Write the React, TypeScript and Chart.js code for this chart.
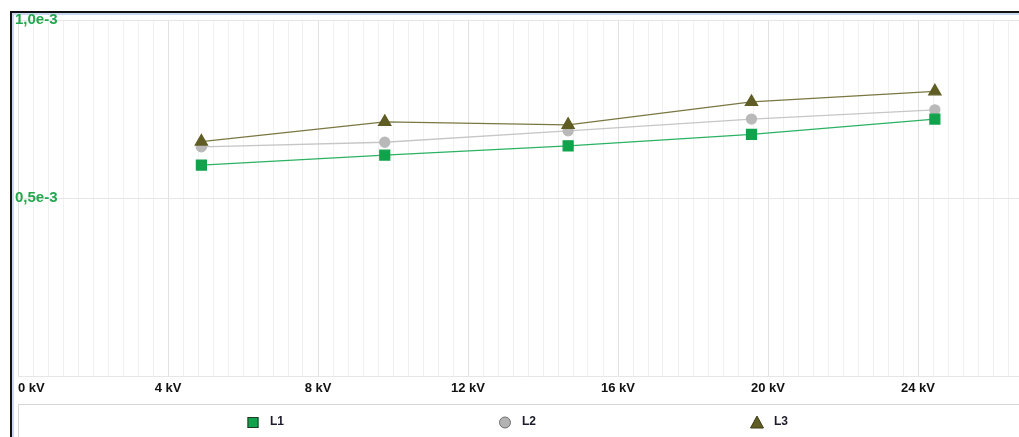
import React, { useEffect, useRef } from "react";
import { Chart, registerables } from "chart.js";

Chart.register(...registerables);

// Data
const voltagesKV = [4.89, 9.78, 14.67, 19.56, 24.45];
const seriesL1 = [0.593e-3, 0.621e-3, 0.647e-3, 0.679e-3, 0.722e-3];
const seriesL2 = [0.644e-3, 0.657e-3, 0.689e-3, 0.722e-3, 0.748e-3];
const seriesL3 = [0.659e-3, 0.714e-3, 0.706e-3, 0.770e-3, 0.800e-3];
const seriesNames = ["L1", "L2", "L3"];
const xMajorTicks = [0, 4, 8, 12, 16, 20, 24];
const yTickValues = [0.5e-3, 1.0e-3];

const CANVAS_W = 1040;
const CANVAS_H = 437;

const L1_COLOR = "#10a34c";
const L2_COLOR = "#b9b9b9";
const L3_COLOR = "#5f5d24";

const isMajor = (v: number) => xMajorTicks.some((m) => Math.abs(v - m) < 1e-6);

const framePlugin = {
  id: "frame",
  beforeDraw(chart: any) {
    const ctx = chart.ctx;
    ctx.save();
    ctx.fillStyle = "#ffffff";
    ctx.fillRect(0, 0, chart.width, chart.height);
    ctx.fillStyle = "#111111";
    ctx.fillRect(10, 11, chart.width, 2);
    ctx.fillRect(10, 11, 2, chart.height);
    ctx.fillStyle = "#c9d8ef";
    ctx.fillRect(12, 13, chart.width, 2);
    ctx.fillRect(12, 13, 2, chart.height);
    ctx.restore();
  },
};

const legendPlugin = {
  id: "bottomLegend",
  afterDraw(chart: any) {
    const ctx = chart.ctx;
    ctx.save();
    ctx.fillStyle = "#ffffff";
    ctx.fillRect(18, 404, 1008, 60);
    ctx.strokeStyle = "#d6d6d6";
    ctx.lineWidth = 1;
    ctx.strokeRect(18.5, 404.5, 1008, 60);
    const y = 422;
    chart.data.datasets.forEach((ds: any, i: number) => {
      const textX = 18 + 252 * (i + 1);
      const mx = textX - 17;
      ctx.lineWidth = 1;
      if (i === 0) {
        ctx.fillStyle = L1_COLOR;
        ctx.fillRect(mx - 5.5, y - 5, 11, 11);
        ctx.strokeStyle = "#1e3a27";
        ctx.strokeRect(mx - 5, y - 4.5, 10, 10);
      } else if (i === 1) {
        ctx.beginPath();
        ctx.arc(mx, y + 0.5, 5.5, 0, Math.PI * 2);
        ctx.fillStyle = "#b3b3b3";
        ctx.fill();
        ctx.strokeStyle = "#6f6f6f";
        ctx.stroke();
      } else {
        ctx.beginPath();
        ctx.moveTo(mx, y - 6);
        ctx.lineTo(mx + 6.5, y + 6);
        ctx.lineTo(mx - 6.5, y + 6);
        ctx.closePath();
        ctx.fillStyle = L3_COLOR;
        ctx.fill();
        ctx.strokeStyle = "#3d3c14";
        ctx.stroke();
      }
      ctx.fillStyle = "#1b1b2b";
      ctx.font = "bold 12px 'Liberation Sans', Arial, sans-serif";
      ctx.textAlign = "left";
      ctx.textBaseline = "middle";
      ctx.fillText(ds.label, textX, y);
    });
    ctx.restore();
  },
};

export default function App() {
  const canvasRef = useRef<HTMLCanvasElement | null>(null);

  useEffect(() => {
    if (!canvasRef.current) return;
    const toPoints = (vals: number[]) => vals.map((v, i) => ({ x: voltagesKV[i], y: v }));
    const chart = new Chart(canvasRef.current, {
      type: "line",
      data: {
        datasets: [
          {
            label: seriesNames[0],
            data: toPoints(seriesL1),
            borderColor: "#2bb262",
            backgroundColor: L1_COLOR,
            pointBackgroundColor: L1_COLOR,
            pointBorderColor: L1_COLOR,
            pointStyle: "rect",
            pointRadius: 7,
            borderWidth: 1.3,
            order: 0,
          },
          {
            label: seriesNames[1],
            data: toPoints(seriesL2),
            borderColor: "#c6c6c6",
            backgroundColor: L2_COLOR,
            pointBackgroundColor: L2_COLOR,
            pointBorderColor: L2_COLOR,
            pointStyle: "circle",
            pointRadius: 5,
            borderWidth: 1.3,
            order: 2,
          },
          {
            label: seriesNames[2],
            data: toPoints(seriesL3),
            borderColor: "#7a7742",
            backgroundColor: L3_COLOR,
            pointBackgroundColor: L3_COLOR,
            pointBorderColor: L3_COLOR,
            pointStyle: "triangle",
            pointRadius: 7,
            borderWidth: 1.3,
            order: 1,
          },
        ],
      },
      options: {
        responsive: false,
        animation: false,
        devicePixelRatio: 1,
        layout: {
          autoPadding: false,
          padding: { left: 18, top: 20, right: CANVAS_W - 1030.5, bottom: 37 },
        },
        plugins: {
          legend: { display: false },
          tooltip: { enabled: false },
        },
        scales: {
          x: {
            type: "linear",
            min: 0,
            max: 27,
            border: { display: false },
            grid: {
              drawTicks: false,
              color: (c: any) => (c.tick && isMajor(c.tick.value) ? "#e2e2e2" : "#f1f1f1"),
              lineWidth: 1,
            },
            ticks: {
              stepSize: 0.4,
              autoSkip: false,
              maxRotation: 0,
              align: "inner",
              padding: 4,
              color: "#111111",
              font: { family: "'Liberation Sans', Arial, sans-serif", size: 13, weight: "bold" },
              callback: (v: any) => {
                const n = Number(v);
                if (!isMajor(n)) return "";
                return `${Math.round(n)} kV`;
              },
            },
          },
          y: {
            type: "linear",
            min: 0,
            max: 1.0e-3,
            border: { display: false },
            grid: { drawTicks: false, color: "#e6e6e6", lineWidth: 1 },
            afterBuildTicks: (axis: any) => {
              axis.ticks = [0, ...yTickValues].map((v) => ({ value: v }));
            },
            ticks: {
              mirror: true,
              padding: -1,
              color: "#1fa84c",
              font: { family: "'Liberation Sans', Arial, sans-serif", size: 15, weight: "bold" },
              callback: (v: any) => {
                const n = Number(v);
                if (n === 0) return "";
                return (n * 1000).toFixed(1).replace(".", ",") + "e-3";
              },
            },
          },
        },
      },
      plugins: [framePlugin, legendPlugin],
    });
    return () => chart.destroy();
  }, []);

  return (
    <div style={{ position: "fixed", left: 0, top: 0, width: 1019, height: 437, overflow: "hidden", background: "#fff" }}>
      <canvas ref={canvasRef} width={CANVAS_W} height={CANVAS_H} style={{ display: "block", width: CANVAS_W, height: CANVAS_H }} />
    </div>
  );
}
